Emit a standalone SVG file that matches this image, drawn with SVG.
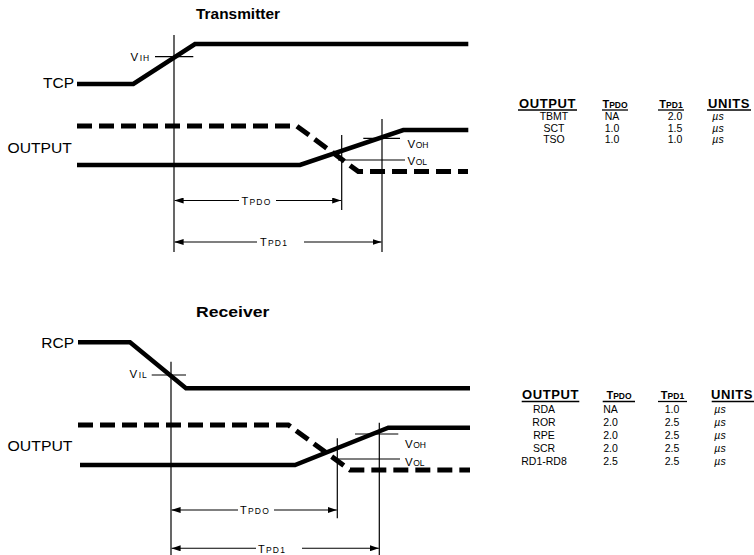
<svg xmlns="http://www.w3.org/2000/svg" width="754" height="555" viewBox="0 0 754 555">
<style>
text{font-family:"Liberation Sans",Arial,Helvetica,sans-serif;fill:#000}
.title{font-size:15.5px;font-weight:bold}
.lbl{font-size:15.5px}
.sig{fill:none;stroke:#000;stroke-width:4.5;stroke-linejoin:miter}
.dash{fill:none;stroke:#000;stroke-width:5;stroke-dasharray:15 7}
.thin{fill:none;stroke:#000;stroke-width:1.2}
.dim{fill:none;stroke:#000;stroke-width:1.1;marker-end:url(#ah)}
.v{font-size:11.5px}
.sub{font-size:8.5px}
.tl{font-size:11px;letter-spacing:1.2px}
.th{font-size:13px;font-weight:bold;letter-spacing:0.6px;text-anchor:middle}
.thb{font-weight:bold;text-anchor:middle}
.td{font-size:10.5px;text-anchor:middle}
.mu{font-size:10.5px;font-style:italic;text-anchor:middle}
.ul{stroke:#000;stroke-width:1.3}
</style>
<defs>
<marker id="ah" viewBox="0 0 9 6" refX="9" refY="3" markerWidth="9" markerHeight="6" markerUnits="userSpaceOnUse" orient="auto">
<path d="M0,0 L9,3 L0,6 z" fill="#000"/>
</marker>
</defs>

<g id="transmitter">
<text class="title" x="196" y="19.3" textLength="84" lengthAdjust="spacingAndGlyphs">Transmitter</text>
<text class="lbl" x="74" y="88.3" text-anchor="end">TCP</text>
<text class="lbl" x="7.5" y="153" textLength="64.3" lengthAdjust="spacingAndGlyphs">OUTPUT</text>
<polyline class="sig" points="77,84 133.3,84 195,44 468.3,44"/>
<polyline class="dash" points="77,126 296.7,126 358.3,171.5 468,171.5"/>
<polyline class="sig" points="77,165 300,165 403.3,130 468.3,130"/>
<g id="tx-guides">
<line class="thin" x1="174" y1="35" x2="174" y2="252"/>
<line class="thin" x1="341.7" y1="135" x2="341.7" y2="210"/>
<line class="thin" x1="382" y1="119" x2="382" y2="252"/>
<line class="thin" x1="155" y1="56.7" x2="193.3" y2="56.7"/>
<line class="thin" x1="363.3" y1="138.3" x2="400" y2="138.3"/>
<line class="thin" x1="338" y1="160" x2="405" y2="160"/>
</g>
<text class="v" x="130.5" y="60.5">V<tspan class="sub" dx="1.5" letter-spacing="1">IH</tspan></text>
<text class="v" x="407.5" y="148">V<tspan class="sub" dx="0.5">OH</tspan></text>
<text class="v" x="407.5" y="164.5">V<tspan class="sub" dx="0.5">OL</tspan></text>
<g id="tx-dims">
<path class="dim" d="M239,200.5 L174.6,200.5"/>
<path class="dim" d="M276,200.5 L341.2,200.5"/>
<path class="dim" d="M257,242 L174.6,242"/>
<path class="dim" d="M304,242 L381.5,242"/>
</g>
<text class="tl" x="241.5" y="204.5">T<tspan class="sub">PDO</tspan></text>
<text class="tl" x="260" y="246">T<tspan class="sub">PD1</tspan></text>
</g>

<g id="transmitter-table">
<text class="th" x="547.5" y="108">OUTPUT</text>
<text class="thb" x="615" y="108"><tspan font-size="11px">T</tspan><tspan font-size="8.5px">PDO</tspan></text>
<text class="thb" x="671" y="108"><tspan font-size="11px">T</tspan><tspan font-size="8.5px">PD1</tspan></text>
<text class="th" x="729" y="108">UNITS</text>
<line class="ul" x1="518" y1="110" x2="577" y2="110"/>
<line class="ul" x1="602" y1="110" x2="628" y2="110"/>
<line class="ul" x1="658" y1="110" x2="684" y2="110"/>
<line class="ul" x1="707" y1="110" x2="751" y2="110"/>
<text class="td" x="554" y="119.5">TBMT</text><text class="td" x="612" y="119.5">NA</text><text class="td" x="675" y="119.5">2.0</text><text class="mu" x="718" y="119.5">µs</text>
<text class="td" x="554" y="131.5">SCT</text><text class="td" x="612" y="131.5">1.0</text><text class="td" x="675" y="131.5">1.5</text><text class="mu" x="718" y="131.5">µs</text>
<text class="td" x="554" y="143.3">TSO</text><text class="td" x="612" y="143.3">1.0</text><text class="td" x="675" y="143.3">1.0</text><text class="mu" x="718" y="143.3">µs</text>
</g>

<g id="receiver">
<text class="title" x="196" y="316.7" textLength="73.3" lengthAdjust="spacingAndGlyphs">Receiver</text>
<text class="lbl" x="74" y="347.5" text-anchor="end">RCP</text>
<text class="lbl" x="7.5" y="450.5" textLength="65" lengthAdjust="spacingAndGlyphs">OUTPUT</text>
<polyline class="sig" points="78,342.3 130,342.3 186,388.3 470,388.3"/>
<polyline class="dash" points="78,425 288.3,425 350,470 470,470"/>
<polyline class="sig" points="80,465 295,465 388.3,427.7 470,427.7"/>
<g id="rx-guides">
<line class="thin" x1="171" y1="361.7" x2="171" y2="555"/>
<line class="thin" x1="337.3" y1="438.3" x2="337.3" y2="518.3"/>
<line class="thin" x1="379.3" y1="422.7" x2="379.3" y2="555"/>
<line class="thin" x1="151.7" y1="375" x2="186" y2="375"/>
<line class="thin" x1="355" y1="434" x2="398.3" y2="434"/>
<line class="thin" x1="333.3" y1="459" x2="400" y2="459"/>
</g>
<text class="v" x="129.5" y="378">V<tspan class="sub" dx="1.5" letter-spacing="1">IL</tspan></text>
<text class="v" x="405" y="447.5">V<tspan class="sub" dx="0.5">OH</tspan></text>
<text class="v" x="405" y="465.5">V<tspan class="sub" dx="0.5">OL</tspan></text>
<g id="rx-dims">
<path class="dim" d="M238,510 L171.6,510"/>
<path class="dim" d="M274,510 L336.8,510"/>
<path class="dim" d="M256,548.3 L171.6,548.3"/>
<path class="dim" d="M302,548.3 L378.8,548.3"/>
</g>
<text class="tl" x="240" y="514">T<tspan class="sub">PDO</tspan></text>
<text class="tl" x="258" y="552.5">T<tspan class="sub">PD1</tspan></text>
</g>

<g id="receiver-table">
<text class="th" x="550.5" y="399.3">OUTPUT</text>
<text class="thb" x="619" y="399.3"><tspan font-size="11px">T</tspan><tspan font-size="8.5px">PDO</tspan></text>
<text class="thb" x="672.5" y="399.3"><tspan font-size="11px">T</tspan><tspan font-size="8.5px">PD1</tspan></text>
<text class="th" x="732" y="399.3">UNITS</text>
<line class="ul" x1="521.7" y1="401.5" x2="579.3" y2="401.5"/>
<line class="ul" x1="602.7" y1="401.5" x2="635" y2="401.5"/>
<line class="ul" x1="658" y1="401.5" x2="687" y2="401.5"/>
<line class="ul" x1="711.7" y1="401.5" x2="754" y2="401.5"/>
<text class="td" x="544" y="413.3">RDA</text><text class="td" x="610.5" y="413.3">NA</text><text class="td" x="672" y="413.3">1.0</text><text class="mu" x="720" y="413.3">µs</text>
<text class="td" x="544" y="426.2">ROR</text><text class="td" x="610.5" y="426.2">2.0</text><text class="td" x="672" y="426.2">2.5</text><text class="mu" x="720" y="426.2">µs</text>
<text class="td" x="544" y="439.2">RPE</text><text class="td" x="610.5" y="439.2">2.0</text><text class="td" x="672" y="439.2">2.5</text><text class="mu" x="720" y="439.2">µs</text>
<text class="td" x="544" y="452">SCR</text><text class="td" x="610.5" y="452">2.0</text><text class="td" x="672" y="452">2.5</text><text class="mu" x="720" y="452">µs</text>
<text class="td" x="544" y="464.8">RD1-RD8</text><text class="td" x="610.5" y="464.8">2.5</text><text class="td" x="672" y="464.8">2.5</text><text class="mu" x="720" y="464.8">µs</text>
</g>
</svg>
